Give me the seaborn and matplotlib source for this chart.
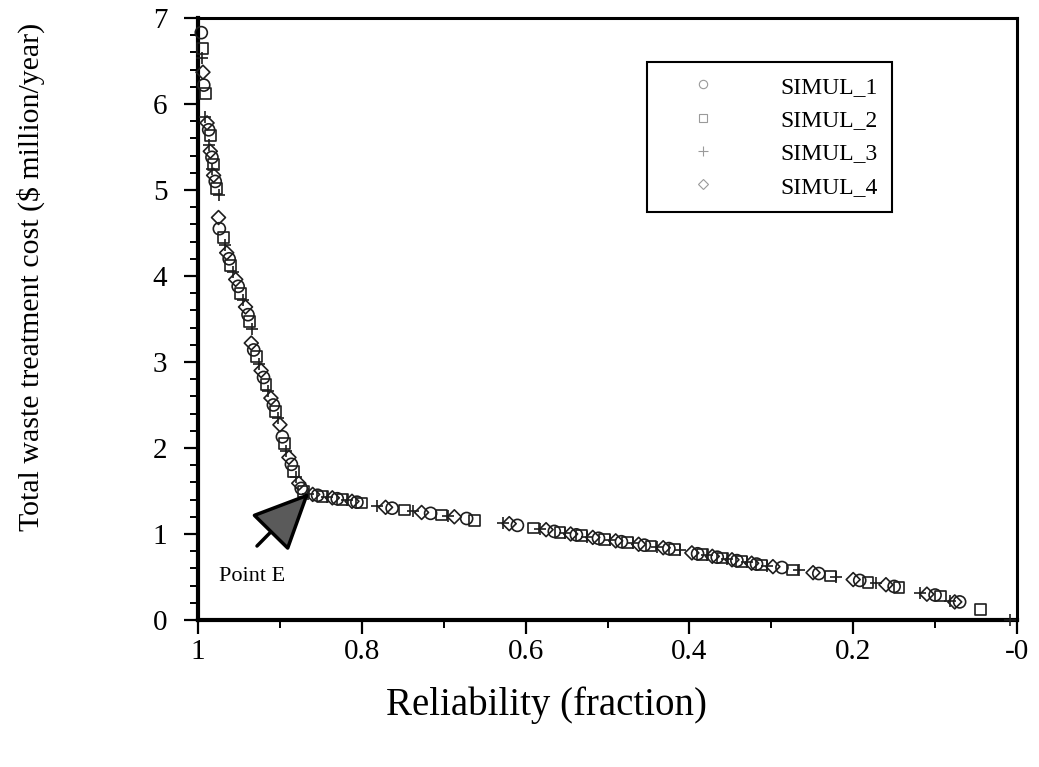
import numpy as np
import pandas as pd
import matplotlib
matplotlib.use("Agg")
import matplotlib.pyplot as plt
import seaborn as sns
from matplotlib.lines import Line2D

# ---------------- data ----------------
s1_x = [0.996, 0.993, 0.987, 0.983, 0.979, 0.974, 0.962, 0.951, 0.939, 0.932, 0.920, 0.908, 0.897,
        0.886, 0.874, 0.854, 0.830, 0.806, 0.763, 0.716, 0.672, 0.610, 0.565, 0.538, 0.511, 0.483,
        0.455, 0.425, 0.390, 0.366, 0.342, 0.318, 0.287, 0.242, 0.192, 0.150, 0.100, 0.070]
s1_y = [6.83, 6.22, 5.70, 5.38, 5.10, 4.55, 4.20, 3.88, 3.55, 3.14, 2.82, 2.50, 2.13,
        1.81, 1.53, 1.45, 1.41, 1.37, 1.30, 1.24, 1.18, 1.10, 1.03, 0.99, 0.95, 0.91,
        0.87, 0.83, 0.77, 0.73, 0.69, 0.65, 0.61, 0.54, 0.46, 0.39, 0.29, 0.21]

s2_x = [0.995, 0.991, 0.985, 0.981, 0.977, 0.969, 0.960, 0.948, 0.937, 0.929, 0.917, 0.905, 0.894,
        0.883, 0.871, 0.848, 0.824, 0.800, 0.748, 0.703, 0.662, 0.590, 0.558, 0.532, 0.504, 0.476,
        0.447, 0.418, 0.384, 0.360, 0.336, 0.312, 0.274, 0.228, 0.182, 0.144, 0.093, 0.045]
s2_y = [6.65, 6.12, 5.63, 5.30, 5.02, 4.45, 4.12, 3.80, 3.47, 3.06, 2.74, 2.42, 2.05,
        1.73, 1.49, 1.44, 1.40, 1.36, 1.28, 1.22, 1.16, 1.07, 1.02, 0.98, 0.94, 0.90,
        0.86, 0.82, 0.76, 0.72, 0.68, 0.64, 0.58, 0.51, 0.44, 0.38, 0.28, 0.12]

s3_x = [0.995, 0.991, 0.987, 0.983, 0.975, 0.967, 0.957, 0.945, 0.934, 0.926, 0.914, 0.902, 0.892,
        0.880, 0.866, 0.842, 0.818, 0.782, 0.738, 0.695, 0.628, 0.582, 0.552, 0.525, 0.497, 0.469,
        0.440, 0.411, 0.378, 0.354, 0.330, 0.305, 0.266, 0.221, 0.172, 0.118, 0.082, 0.009]
s3_y = [6.53, 5.85, 5.52, 5.24, 4.94, 4.36, 4.05, 3.72, 3.38, 2.98, 2.66, 2.35, 1.97,
        1.66, 1.47, 1.43, 1.39, 1.33, 1.27, 1.21, 1.13, 1.06, 1.01, 0.97, 0.93, 0.89,
        0.85, 0.81, 0.75, 0.71, 0.67, 0.63, 0.58, 0.50, 0.43, 0.31, 0.22, 0.00]

s4_x = [0.994, 0.989, 0.985, 0.981, 0.975, 0.965, 0.954, 0.942, 0.935, 0.923, 0.911, 0.900, 0.889,
        0.877, 0.860, 0.836, 0.812, 0.771, 0.727, 0.687, 0.620, 0.575, 0.545, 0.518, 0.490, 0.462,
        0.432, 0.397, 0.372, 0.348, 0.324, 0.298, 0.249, 0.200, 0.160, 0.110, 0.076]
s4_y = [6.37, 5.78, 5.45, 5.17, 4.68, 4.27, 3.96, 3.64, 3.22, 2.90, 2.58, 2.27, 1.89,
        1.59, 1.46, 1.42, 1.38, 1.31, 1.25, 1.20, 1.12, 1.05, 1.00, 0.96, 0.92, 0.88,
        0.84, 0.78, 0.74, 0.70, 0.66, 0.62, 0.55, 0.47, 0.41, 0.30, 0.21]

series_names = ["SIMUL_1", "SIMUL_2", "SIMUL_3", "SIMUL_4"]
x_ticks = [1.0, 0.8, 0.6, 0.4, 0.2, 0.0]
x_tick_labels = ["1", "0.8", "0.6", "0.4", "0.2", "-0"]
y_ticks = [0, 1, 2, 3, 4, 5, 6, 7]

point_e = (0.864, 1.48)
point_e_tail = (0.928, 0.86)
point_e_label = (0.934, 0.50)

# ---------------- style ----------------
sns.set_theme(style="ticks")
plt.rcParams["font.family"] = ["Liberation Serif", "DejaVu Serif"]
plt.rcParams["mathtext.fontset"] = "stix"
plt.rcParams["text.color"] = "black"
plt.rcParams["axes.labelcolor"] = "black"
plt.rcParams["xtick.color"] = "black"
plt.rcParams["ytick.color"] = "black"

fig = plt.figure(figsize=(10.39, 7.67), dpi=100)
ax = fig.add_axes([0.1906, 0.1917, 0.7882, 0.7848])

frames = []
for name, xs, ys in zip(series_names, [s1_x, s2_x, s3_x, s4_x], [s1_y, s2_y, s3_y, s4_y]):
    frames.append(pd.DataFrame({"reliability": xs, "cost": ys, "series": name}))
df = pd.concat(frames, ignore_index=True)

marker_map = {"SIMUL_1": "o", "SIMUL_2": "s", "SIMUL_3": "+", "SIMUL_4": "D"}
size_map = {"SIMUL_1": 75, "SIMUL_2": 60, "SIMUL_3": 80, "SIMUL_4": 50}
edge = "#1e1e1e"
for name in series_names:
    sub = df[df["series"] == name]
    if marker_map[name] == "+":
        sns.scatterplot(data=sub, x="reliability", y="cost", marker="+", s=size_map[name],
                        color=edge, linewidth=1.2, ax=ax, legend=False, clip_on=False, zorder=3)
    else:
        sns.scatterplot(data=sub, x="reliability", y="cost", marker=marker_map[name],
                        s=size_map[name], facecolor="none", edgecolor=edge, linewidth=1.2,
                        ax=ax, legend=False, clip_on=False, zorder=3)

ax.set_xlim(1.0, 0.0)
ax.set_ylim(0, 7)
ax.set_xticks(x_ticks)
ax.set_xticklabels(x_tick_labels)
ax.set_yticks(y_ticks)
ax.set_xticks(np.arange(0.0, 1.0001, 0.1), minor=True)
ax.set_yticks(np.arange(0.0, 7.0001, 0.2), minor=True)

ax.tick_params(axis="both", which="major", direction="out", length=10, width=1.6,
               labelsize=21, color="black", labelcolor="black")
ax.tick_params(axis="both", which="minor", direction="out", length=5.5, width=1.4, color="black")
ax.tick_params(axis="y", which="major", pad=12)
ax.tick_params(axis="x", which="major", pad=4)

for side in ["left", "bottom"]:
    ax.spines[side].set_linewidth(3.0)
    ax.spines[side].set_color("black")
for side in ["top", "right"]:
    ax.spines[side].set_visible(True)
    ax.spines[side].set_linewidth(2.2)
    ax.spines[side].set_color("black")

ax.set_xlabel("Reliability (fraction)", fontsize=28, color="black")
ax.set_ylabel("Total waste treatment cost ($ million/year)", fontsize=21.5, color="black")
ax.xaxis.set_label_coords(0.426, -0.110)
ax.yaxis.set_label_coords(-0.187, 0.57)

# arrow to Point E
ax.annotate("", xy=point_e, xytext=point_e_tail,
            arrowprops=dict(arrowstyle="-|>,head_length=1.3,head_width=0.6", mutation_scale=28,
                            lw=2.5, edgecolor="black", facecolor="#5a5a5a",
                            shrinkA=0, shrinkB=0))
ax.text(point_e_label[0], point_e_label[1], "Point E", fontsize=16, ha="center", va="center",
        color="black")

# legend
handles = []
for name in series_names:
    m = marker_map[name]
    if m == "+":
        h = Line2D([], [], linestyle="none", marker=m, markersize=7, markeredgewidth=0.8,
                   color="#9a9a9a")
    else:
        h = Line2D([], [], linestyle="none", marker=m, markersize=6 if m != "D" else 5,
                   markerfacecolor="none", markeredgecolor="#9a9a9a", markeredgewidth=0.8)
    handles.append(h)
leg = ax.legend(handles, series_names, loc="upper left", bbox_to_anchor=(0.548, 0.927),
                fontsize=17, frameon=True, fancybox=False, edgecolor="black",
                borderpad=0.6, labelspacing=0.5, handlelength=3.6, handletextpad=1.45,
                borderaxespad=0.0)
leg.get_frame().set_linewidth(1.5)
leg.get_frame().set_facecolor("white")
leg.get_frame().set_alpha(1.0)
for t in leg.get_texts():
    t.set_color("black")

fig.savefig("out.png", dpi=100, facecolor="white")
